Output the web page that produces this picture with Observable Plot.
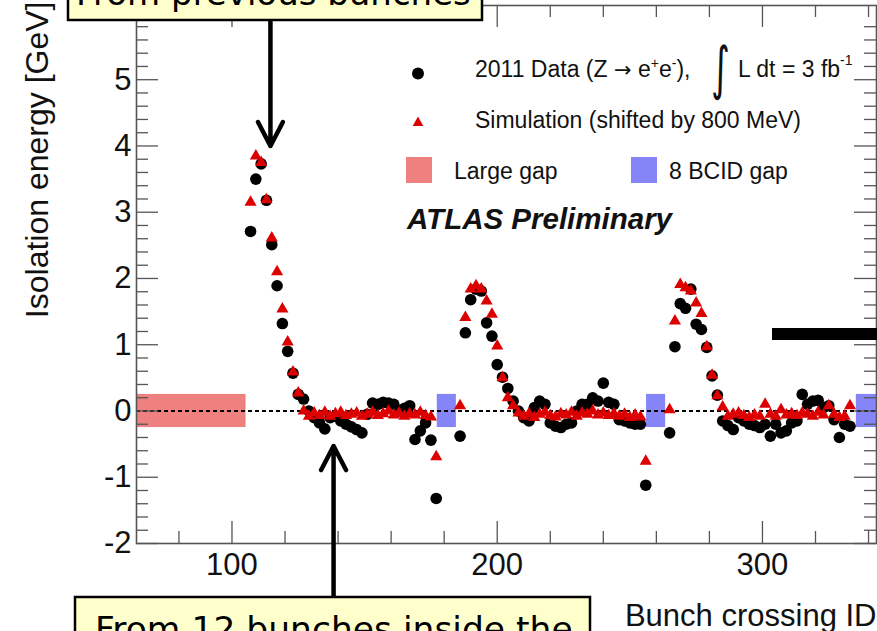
<!DOCTYPE html>
<html><head><meta charset="utf-8">
<script src="https://cdn.jsdelivr.net/npm/d3@7"></script>
<script src="https://cdn.jsdelivr.net/npm/@observablehq/plot@0.6"></script>
<style>
html,body{margin:0;padding:0;background:#fff;overflow:hidden}
#wrap{position:relative;width:877px;height:631px;overflow:hidden;font-family:"Liberation Sans",Arial,sans-serif}
#wrap svg{display:block}
</style></head><body><div id="wrap"></div>
<script>
// ---- data ----
const bcid = [
  107,109,111,113,115,117,119,121,123,125,127,129,131,133,135,137,139,141,143,145,147,149,151,153,155,157,159,161,163,165,167,169,171,173,175,177,
  186,188,190,192,194,196,198,200,202,204,206,208,210,212,214,216,218,220,222,224,226,228,230,232,234,236,238,240,242,244,246,248,250,252,254,256,
  265,267,269,271,273,275,277,279,281,283,285,287,289,291,293,295,297,299,301,303,305,307,309,311,313,315,317,319,321,323,325,327,329,331,333
];
const dataIso = [
  2.71,3.50,3.73,3.18,2.51,1.89,1.32,0.90,0.57,0.25,0.18,0.00,-0.10,-0.18,-0.27,-0.10,-0.08,-0.15,-0.20,-0.24,-0.28,-0.33,-0.05,0.12,0.10,0.13,0.12,0.10,0.00,0.04,0.08,-0.43,-0.30,-0.18,-0.44,-1.32,
  -0.38,1.18,1.68,1.84,1.81,1.33,1.13,0.70,0.51,0.34,0.15,0.00,-0.10,-0.15,0.05,0.15,0.10,-0.18,-0.23,-0.25,-0.20,-0.18,0.00,0.10,0.10,0.20,0.15,0.42,0.13,0.10,-0.13,-0.15,-0.18,-0.20,-0.20,-1.12,
  -0.33,0.97,1.62,1.55,1.84,1.31,1.23,0.96,0.53,0.24,-0.15,-0.22,-0.28,-0.10,-0.15,-0.20,-0.22,-0.25,-0.20,-0.38,-0.20,-0.33,-0.30,-0.18,-0.15,0.25,0.10,0.15,0.16,0.05,0.08,-0.13,-0.40,-0.20,-0.23
];
const simIso = [
  3.15,3.85,3.75,3.19,2.61,2.10,1.54,1.04,0.59,0.27,0.00,-0.08,-0.03,-0.07,-0.02,-0.08,-0.04,-0.02,-0.07,-0.05,-0.03,-0.08,-0.05,-0.02,-0.07,-0.04,0.00,-0.06,-0.03,-0.08,-0.04,-0.06,-0.02,-0.07,-0.09,-0.69,
  0.08,1.41,1.84,1.89,1.84,1.66,1.46,0.98,0.50,0.20,0.08,-0.03,-0.08,-0.04,-0.10,-0.05,-0.02,-0.07,-0.09,-0.04,-0.06,-0.02,-0.08,-0.03,-0.05,0.00,-0.06,-0.03,-0.07,-0.04,-0.08,-0.05,-0.10,-0.06,-0.09,-0.76,
  0.02,1.36,1.91,1.86,1.81,1.63,1.47,0.97,0.54,0.23,0.06,-0.08,-0.05,-0.03,-0.07,-0.10,-0.06,-0.08,0.10,-0.05,-0.08,0.02,-0.06,-0.04,-0.07,-0.03,-0.05,-0.08,-0.02,-0.06,0.08,-0.05,-0.10,-0.08,0.08
];
const largeGap = [{x1: 64, x2: 105.3}];
const bcidGaps = [{x1: 177.4, x2: 184.6}, {x1: 256.3, x2: 263.5}, {x1: 335.4, x2: 343}];
const gapHalfHeight = 0.25;
const xTickLabels = [100, 200, 300];
const xMinorTicks = [80, 120, 140, 160, 180, 220, 240, 260, 280, 320, 340];
const yTickLabels = [-2, -1, 0, 1, 2, 3, 4, 5];
const yLabel = "Isolation energy [GeV]";
const xLabel = "Bunch crossing ID";
// annotation arrows, in chart coordinates
const annotationArrows = [
  {x1: 114.5, y1: 5.9, x2: 114.5, y2: 4.0},
  {x1: 138.3, y1: -2.85, x2: 138.3, y2: -0.53}
];

// ---- layout ----
const W = 877, H = 631;
const mL = 136, mR = 1, mT = 5, mB = 88;
const frameW = W - mL - mR, frameH = H - mT - mB;
const majorLen = 22, minorLen = 12;
const axisColor = "#555";
const yMinor = d3.range(-1.8, 6.1, 0.2).map(v => Math.round(v * 10) / 10).filter(v => Math.abs(v - Math.round(v)) > 1e-6);

const pts = bcid.map((b, i) => ({b, d: dataIso[i], s: simIso[i]}));

const chart = Plot.plot({
  width: W, height: H,
  marginLeft: mL, marginRight: mR, marginTop: mT, marginBottom: mB,
  x: {domain: [64, 343], axis: null},
  y: {domain: [-2, 6.12], axis: null},
  style: {fontFamily: "'Liberation Sans', Arial, sans-serif", background: "transparent", overflow: "visible"},
  marks: [
    Plot.rect(largeGap, {x1: "x1", x2: "x2", y1: -gapHalfHeight, y2: gapHalfHeight, fill: "#ef8080"}),
    Plot.rect(bcidGaps, {x1: "x1", x2: "x2", y1: -gapHalfHeight, y2: gapHalfHeight, fill: "#8585f7"}),
    Plot.ruleY([0], {stroke: "#000", strokeWidth: 2, strokeDasharray: "4,3"}),
    Plot.dot(pts, {x: "b", y: "d", r: 5.8, fill: "#000"}),
    Plot.dot(pts, {x: "b", y: "s", symbol: "triangle", r: 4.5, fill: "#dd0000"}),
    // ticks (inward, ROOT style)
    Plot.ruleX(xTickLabels, {insetTop: frameH - majorLen, stroke: axisColor, strokeWidth: 1.3}),
    Plot.ruleX(xMinorTicks, {insetTop: frameH - minorLen, stroke: axisColor, strokeWidth: 1.3}),
    Plot.ruleX(xTickLabels, {insetBottom: frameH - majorLen, stroke: axisColor, strokeWidth: 1.3}),
    Plot.ruleX(xMinorTicks, {insetBottom: frameH - minorLen, stroke: axisColor, strokeWidth: 1.3}),
    Plot.ruleY(yTickLabels, {insetRight: frameW - majorLen, stroke: axisColor, strokeWidth: 1.3}),
    Plot.ruleY(yMinor, {insetRight: frameW - minorLen, stroke: axisColor, strokeWidth: 1.3}),
    Plot.ruleY(yTickLabels, {insetLeft: frameW - majorLen, stroke: axisColor, strokeWidth: 1.3}),
    Plot.ruleY(yMinor, {insetLeft: frameW - minorLen, stroke: axisColor, strokeWidth: 1.3}),
    Plot.frame({stroke: axisColor, strokeWidth: 1.6}),
    // tick labels
    Plot.text(yTickLabels, {y: d => d, text: d => String(d), frameAnchor: "left", textAnchor: "end", dx: -5, fontSize: 31, fill: "#111"}),
    Plot.text(xTickLabels, {x: d => d, text: d => String(d), frameAnchor: "bottom", lineAnchor: "top", dy: 9, fontSize: 31, fill: "#111"}),
    // axis titles
    Plot.text([yLabel], {frameAnchor: "top-left", rotate: -90, textAnchor: "end", lineAnchor: "bottom", dx: -89, dy: -4, fontSize: 32, fill: "#111"}),
    Plot.text([xLabel], {frameAnchor: "bottom-right", textAnchor: "end", lineAnchor: "bottom", dy: 82, fontSize: 31, fill: "#111"}),
    // annotation arrows
    Plot.arrow(annotationArrows, {x1: "x1", y1: "y1", x2: "x2", y2: "y2", stroke: "#000", strokeWidth: 4.5, headLength: 9, headAngle: 55})
  ]
});
const wrap = document.getElementById("wrap");
chart.style.position = "absolute";
chart.style.left = "0px";
chart.style.top = "0px";
wrap.appendChild(chart);

// ---- overlay: legend and slide annotations ----
const ov = d3.select(wrap).append("svg")
  .attr("width", W).attr("height", H)
  .style("position", "absolute").style("left", "0px").style("top", "0px")
  .style("font-family", "'Liberation Sans', Arial, sans-serif");

// legend
ov.append("circle").attr("cx", 418).attr("cy", 73.5).attr("r", 6).attr("fill", "#000");
const t1 = ov.append("text").attr("x", 475).attr("y", 77).attr("font-size", 23).attr("fill", "#111");
t1.append("tspan").text("2011 Data (Z ");
t1.append("tspan").attr("font-family", "'DejaVu Sans', sans-serif").attr("font-size", 21).text("\u2192");
t1.append("tspan").text(" e");
t1.append("tspan").attr("font-size", 14).attr("dy", -9).text("+");
t1.append("tspan").attr("dy", 9).text("e");
t1.append("tspan").attr("font-size", 14).attr("dy", -9).text("-");
t1.append("tspan").attr("dy", 9).text("),");
ov.append("text").attr("x", 0).attr("y", 0).attr("font-size", 40).attr("fill", "#111")
  .attr("font-family", "'DejaVu Sans', sans-serif")
  .attr("transform", "translate(711,88) scale(0.9,1.45)").text("\u222B");
const t2 = ov.append("text").attr("x", 738).attr("y", 77).attr("font-size", 23).attr("fill", "#111");
t2.append("tspan").text("L dt = 3 fb");
t2.append("tspan").attr("font-size", 14).attr("dy", -12).text("-1");

ov.append("path").attr("d", "M418,116.5 L423.3,126 L412.7,126 Z").attr("fill", "#dd0000");
ov.append("text").attr("x", 475).attr("y", 127.5).attr("font-size", 23).attr("fill", "#111").text("Simulation (shifted by 800 MeV)");

ov.append("rect").attr("x", 406).attr("y", 157).attr("width", 26).attr("height", 26).attr("fill", "#ef8080");
ov.append("text").attr("x", 454).attr("y", 178.5).attr("font-size", 23).attr("fill", "#111").text("Large gap");
ov.append("rect").attr("x", 631).attr("y", 157).attr("width", 26).attr("height", 26).attr("fill", "#8585f7");
ov.append("text").attr("x", 669).attr("y", 178.5).attr("font-size", 23).attr("fill", "#111").text("8 BCID gap");

ov.append("text").attr("x", 407).attr("y", 229).attr("font-size", 29.5).attr("font-weight", "bold")
  .attr("font-style", "italic").attr("fill", "#111").text("ATLAS Preliminary");

// slide annotations
ov.append("rect").attr("x", 68).attr("y", -20).attr("width", 414).attr("height", 40)
  .attr("fill", "#ffffcc").attr("stroke", "#000").attr("stroke-width", 2.5);
ov.append("text").attr("x", 76).attr("y", 5).attr("font-size", 34).attr("fill", "#000")
  .attr("font-family", "'DejaVu Sans', sans-serif").text("From previous bunches");

ov.append("rect").attr("x", 75).attr("y", 597).attr("width", 515).attr("height", 60)
  .attr("fill", "#ffffcc").attr("stroke", "#000").attr("stroke-width", 2.5);
ov.append("text").attr("x", 95).attr("y", 641).attr("font-size", 34.5).attr("fill", "#000")
  .attr("font-family", "'DejaVu Sans', sans-serif").text("From 12 bunches inside the");

ov.append("rect").attr("x", 772).attr("y", 328).attr("width", 110).attr("height", 12).attr("fill", "#000");
</script>
</body></html>
